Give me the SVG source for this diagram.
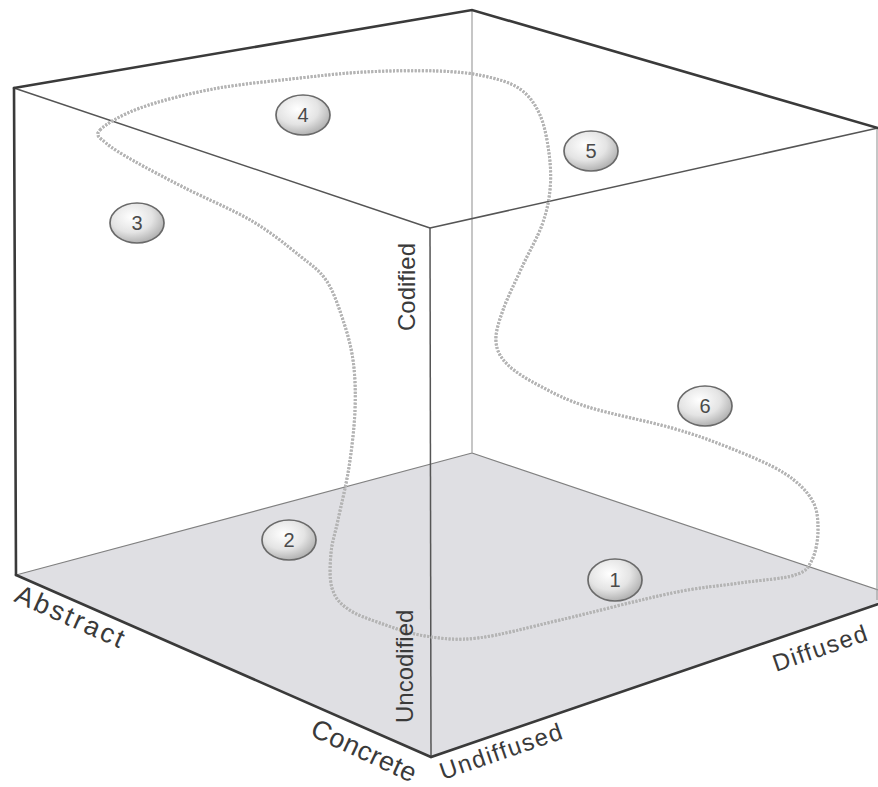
<svg xmlns="http://www.w3.org/2000/svg" width="878" height="787" viewBox="0 0 878 787">
<defs>
<radialGradient id="ball" cx="0.4" cy="0.35" r="0.7">
<stop offset="0" stop-color="#ffffff"/>
<stop offset="0.55" stop-color="#e4e4e4"/>
<stop offset="1" stop-color="#aaaaaa"/>
</radialGradient>
<style>
.outer{stroke:#3a3a3a;stroke-width:2.6;fill:none;stroke-linecap:round}
.inner{stroke:#555;stroke-width:1.5;fill:none}
.back{stroke:#a0a0a0;stroke-width:1.2;fill:none}
.floorln{stroke:#808080;stroke-width:1.2;fill:none}
.axis{font-family:"Liberation Sans",Arial,sans-serif;font-size:24px;fill:#3a3a3a;font-variant-ligatures:none;font-feature-settings:"liga" 0}
.diag{font-size:27px}
.ball ellipse{fill:url(#ball);stroke:#6a6a6a;stroke-width:1.7}
.ball text{font-family:"Liberation Sans",Arial,sans-serif;font-size:20px;fill:#4a4a4a;text-anchor:middle}
.loop1{fill:none;stroke:#b4b4b4;stroke-width:3;stroke-dasharray:2 1.6}
.loop2{fill:none;stroke:#8a8a8a;stroke-width:1.3;stroke-dasharray:1 3.2}
</style>
</defs>
<rect width="878" height="787" fill="#ffffff"/>
<g id="floor">
<polygon points="16,575 472,453 899,597 431,757" fill="#dfdfe3"/>
<line class="floorln" x1="16" y1="575" x2="472" y2="453"/>
<line class="floorln" x1="472" y1="453" x2="899" y2="597"/>
</g>
<g id="cube">
<line class="back" x1="472" y1="10" x2="472" y2="453"/>
<line class="inner" x1="14" y1="88" x2="430" y2="228"/>
<line class="inner" x1="430" y1="228" x2="878" y2="128"/>
<line class="inner" x1="430" y1="228" x2="431" y2="757"/>
<line class="back" x1="877" y1="128" x2="877" y2="600"/>
<polyline class="outer" points="14,88 472,10 878,128"/>
<line class="outer" x1="14" y1="88" x2="16" y2="575"/>
<polyline class="outer" points="16,575 431,757 899,597"/>
</g>
<g id="connectors">
<path id="loop" class="loop1" d="M100,130 C105.7,124.2 121.2,114.8 140,108 C158.8,101.2 187.8,93.8 213,89 C238.2,84.2 265.8,81.8 291,79 C316.2,76.2 339.7,73.3 364,72 C388.3,70.7 417,70.3 437,71 C457,71.7 470.2,73 484,76 C497.8,79 510.7,82.5 520,89 C529.3,95.5 535.2,104.3 540,115 C544.8,125.7 547.3,140.5 549,153 C550.7,165.5 551.2,178 550,190 C548.8,202 546.5,212.5 542,225 C537.5,237.5 529.5,250.8 523,265 C516.5,279.2 507.5,297.2 503,310 C498.5,322.8 495.2,332.8 496,342 C496.8,351.2 500.7,357.7 508,365 C515.3,372.3 526.7,379 540,386 C553.3,393 566,400 588,407 C610,414 648.3,421.2 672,428 C695.7,434.8 711.3,440.5 730,448 C748.7,455.5 770.3,464.3 784,473 C797.7,481.7 806.3,490.5 812,500 C817.7,509.5 818,520 818,530 C818,540 815.8,552.5 812,560 C808.2,567.5 807,571.2 795,575 C783,579 760.5,580 740,583 C719.5,586 702,586.8 672,593 C642,599.2 592.3,612.5 560,620 C527.7,627.5 500.5,635.3 478,638 C455.5,640.7 441.3,638.5 425,636 C408.7,633.5 392.8,627.5 380,623 C367.2,618.5 356,614.8 348,609 C339.3,603.2 334.8,597.3 332,588 C329.2,578.7 330,564.3 331,553 C332,541.7 335,534.3 338,520 C341,505.7 346.2,485.3 349,467 C351.8,448.7 354.3,427.8 355,410 C355.7,392.2 355.2,375.5 353,360 C350.8,344.5 346.5,330.3 342,317 C337.5,303.7 333,290.2 326,280 C319,269.8 312.3,265.8 300,256 C287.7,246.2 271.2,232.3 252,221 C232.8,209.7 204.7,198 185,188 C165.3,178 147.2,168.5 134,161 C120.8,153.5 111.7,148.2 106,143 C100.3,137.8 94.3,135.8 100,130 Z"/>
<use href="#loop" class="loop2"/>
</g>
<g id="labels">
<text class="axis" transform="translate(415,331) rotate(-90)">Codified</text>
<text class="axis" transform="translate(413,723) rotate(-90)">Uncodified</text>
<text class="axis diag" letter-spacing="2.5" transform="translate(13,601) rotate(24)">Abstract</text>
<text class="axis diag" letter-spacing="0.5" transform="translate(309,735) rotate(25)">Concrete</text>
<text class="axis" font-size="26" letter-spacing="1.5" transform="translate(443,780) rotate(-19)">Undiffused</text>
<text class="axis" font-size="25" letter-spacing="1.5" transform="translate(776,672) rotate(-19)">Diffused</text>
</g>
<g id="node1" class="ball"><ellipse cx="615" cy="580" rx="27" ry="21"/><text x="615" y="587">1</text></g>
<g id="node2" class="ball"><ellipse cx="289" cy="540" rx="27" ry="20"/><text x="289" y="547">2</text></g>
<g id="node3" class="ball"><ellipse cx="137" cy="223" rx="27" ry="20"/><text x="137" y="230">3</text></g>
<g id="node4" class="ball"><ellipse cx="303" cy="115" rx="27" ry="20"/><text x="303" y="122">4</text></g>
<g id="node5" class="ball"><ellipse cx="591" cy="151" rx="27" ry="20"/><text x="591" y="158">5</text></g>
<g id="node6" class="ball"><ellipse cx="705" cy="406" rx="27" ry="20"/><text x="705" y="413">6</text></g>
</svg>
